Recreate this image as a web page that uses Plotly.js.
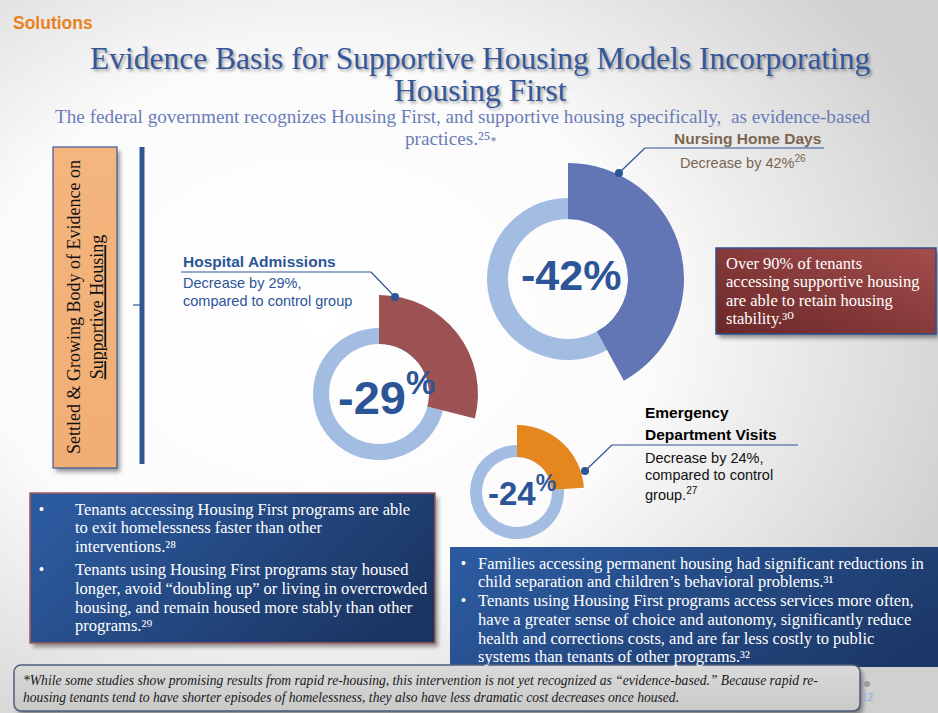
<!DOCTYPE html>
<html>
<head>
<meta charset="utf-8">
<script src="https://cdn.plot.ly/plotly-3.0.1.min.js"></script>
<style>html,body{margin:0;padding:0;overflow:hidden;background:#fff}#chart{width:938px;height:713px}</style>
</head>
<body>
<div id="chart"></div>
<script>
// ---------------- DATA ----------------
const metricNames = ['Nursing Home Days', 'Hospital Admissions', 'Emergency Department Visits'];
const decreasePct = [42, 29, 24];
const sliceColors = ['#6275B4', '#9C5252', '#E6861F'];
const ringColor = '#A3BCE1';
const smallPercentSign = [false, true, true];
const refNotes = ['26', '', '27'];

const titleLines = ['Evidence Basis for Supportive Housing Models Incorporating', 'Housing First'];
const subtitleLines = ['The federal government recognizes Housing First, and supportive housing specifically,  as evidence-based', 'practices.²⁵<span style="font-size:12px">*</span>'];
const leftBoxLines = [
  'Tenants accessing Housing First programs are able',
  'to exit homelessness faster than other',
  'interventions.²⁸',
  'Tenants using Housing First programs stay housed',
  'longer, avoid “doubling up” or living in overcrowded',
  'housing, and remain housed more stably than other',
  'programs.²⁹'
];
const rightBoxLines = [
  'Families accessing permanent housing had significant reductions in',
  'child separation and children’s behavioral problems.³¹',
  'Tenants using Housing First programs access services more often,',
  'have a greater sense of choice and autonomy, significantly reduce',
  'health and corrections costs, and are far less costly to public',
  'systems than tenants of other programs.³²'
];
const redBoxLines = ['Over 90% of tenants', 'accessing supportive housing', 'are able to retain housing', 'stability.³⁰'];
const footnoteLines = [
  '*While some studies show promising results from rapid re-housing, this intervention is not yet recognized as “evidence-based.” Because rapid re-',
  'housing tenants tend to have shorter episodes of homelessness, they also have less dramatic cost decreases once housed.'
];

// ---------------- LAYOUT HELPERS ----------------
const W = 938, H = 713;
const SERIF = '"Liberation Serif", "DejaVu Serif", serif';
const SANS = '"Liberation Sans", Arial, sans-serif';
const px = x => x / W, py = y => 1 - y / H;

function txt(x, y, text, o) {
  o = o || {};
  const font = { family: o.family || SERIF, size: o.size || 15, color: o.color || '#ffffff', weight: o.weight || 'normal', style: o.style || 'normal' };
  if (o.shadow) font.shadow = o.shadow;
  return {
    xref: 'paper', yref: 'paper', x: px(x), y: py(y), text: text, showarrow: false,
    xanchor: o.xanchor || 'left', yanchor: o.yanchor || 'middle', align: o.align || 'left',
    textangle: o.angle || 0, borderpad: 0, font: font
  };
}
function line(x0, y0, x1, y1, color, width) {
  return { type: 'line', xref: 'paper', yref: 'paper', x0: px(x0), y0: py(y0), x1: px(x1), y1: py(y1), line: { color: color, width: width } };
}
function dot(x, y, r, color) {
  return { type: 'circle', xref: 'paper', yref: 'paper', x0: px(x - r), y0: py(y + r), x1: px(x + r), y1: py(y - r), fillcolor: color, line: { width: 0 } };
}
function boxImg(x0, y0, x1, y1, o) {
  const pad = 10, w = x1 - x0, h = y1 - y0, Wt = w + pad * 2, Ht = h + pad * 2;
  const svg = `<svg xmlns='http://www.w3.org/2000/svg' width='${Wt}' height='${Ht}' viewBox='0 0 ${Wt} ${Ht}'>` +
    `<defs><linearGradient id='g' x1='${o.g[0]}' y1='${o.g[1]}' x2='${o.g[2]}' y2='${o.g[3]}'>` +
    `<stop offset='0' stop-color='${o.c1}'/><stop offset='1' stop-color='${o.c2}'/></linearGradient>` +
    `<filter id='f' x='-10%' y='-10%' width='120%' height='120%'><feGaussianBlur stdDeviation='2.2'/></filter></defs>` +
    (o.shadow === false ? '' : `<rect x='${pad + 3}' y='${pad + 4}' width='${w}' height='${h}' rx='${o.rx || 0}' fill='rgba(0,0,0,0.4)' filter='url(#f)'/>`) +
    `<rect x='${pad}' y='${pad}' width='${w}' height='${h}' rx='${o.rx || 0}' fill='url(#g)' stroke='${o.stroke || 'none'}' stroke-width='${o.sw || 0}'/></svg>`;
  return {
    source: 'data:image/svg+xml;charset=utf-8,' + encodeURIComponent(svg),
    xref: 'paper', yref: 'paper', x: px(x0 - pad), y: py(y0 - pad), sizex: Wt / W, sizey: Ht / H,
    xanchor: 'left', yanchor: 'top', sizing: 'stretch', layer: 'below'
  };
}
const bgSvg = `<svg xmlns='http://www.w3.org/2000/svg' width='${W}' height='${H}'><defs><radialGradient id='r' cx='0.34' cy='0.45' r='0.72'>` +
  `<stop offset='0' stop-color='#ffffff'/><stop offset='0.5' stop-color='#fbfbfb'/><stop offset='1' stop-color='#d0d0d0'/></radialGradient></defs>` +
  `<rect width='${W}' height='${H}' fill='url(#r)'/></svg>`;

// ---------------- DONUTS ----------------
const geom = [
  { cx: 568, cy: 279, rIn: 60, rRing: 81, rBig: 116, font: 43, lx: 571, ly: 275 },
  { cx: 379, cy: 394, rIn: 50, rRing: 66, rBig: 99, font: 47, lx: 386, ly: 394 },
  { cx: 517, cy: 492, rIn: 35, rRing: 47, rBig: 67, font: 33, lx: 522, ly: 491 }
];
function dom(g, r) { return { x: [px(g.cx - r), px(g.cx + r)], y: [py(g.cy + r), py(g.cy - r)] }; }

const traces = [];
decreasePct.forEach((v, i) => {
  const g = geom[i];
  const common = { type: 'pie', values: [v, 100 - v], labels: ['decrease', 'rest'], sort: false, direction: 'clockwise', rotation: 0,
    textinfo: 'none', textposition: 'none', hoverinfo: 'skip', showlegend: false };
  traces.push(Object.assign({}, common, {
    hole: g.rIn / g.rRing, domain: dom(g, g.rRing),
    marker: { colors: [ringColor, ringColor], line: { width: 0 } }
  }));
  traces.push(Object.assign({}, common, {
    hole: g.rIn / g.rBig, domain: dom(g, g.rBig),
    marker: { colors: [sliceColors[i], 'rgba(0,0,0,0)'], line: { width: 0 } }
  }));
});

// ---------------- ANNOTATIONS ----------------
const ann = [];
ann.push(txt(12, 23, 'Solutions', { family: SANS, size: 17.5, color: '#E8821E', weight: 'bold' }));
const titleShadow = '2px 2px 3px rgba(0,0,0,0.35)';
ann.push(txt(480, 58, titleLines[0], { xanchor: 'center', align: 'center', size: 31.5, color: '#34579B', shadow: titleShadow }));
ann.push(txt(480, 90, titleLines[1], { xanchor: 'center', align: 'center', size: 31.5, color: '#34579B', shadow: titleShadow }));
ann.push(txt(462, 116, subtitleLines[0], { xanchor: 'center', align: 'center', size: 19.2, color: '#6A7CB9' }));
ann.push(txt(450, 138, subtitleLines[1], { xanchor: 'center', align: 'center', size: 19.2, color: '#6A7CB9' }));

// vertical label
ann.push(txt(85, 307, 'Settled &amp; Growing Body of Evidence on<br><u>Supportive Housing</u>', { xanchor: 'center', align: 'center', angle: -90, size: 18, color: '#111111' }));

// center percentages
decreasePct.forEach((v, i) => {
  const g = geom[i];
  const label = smallPercentSign[i] ? `-${v}<sup>%</sup>` : `-${v}%`;
  ann.push(txt(g.lx, g.ly, label, { xanchor: 'center', align: 'center', family: SANS, size: g.font, color: '#2C5597', weight: 'bold' }));
});

// metric labels
ann.push(txt(822, 139, metricNames[0], { xanchor: 'right', family: SANS, size: 15.5, color: '#7B6651', weight: 'bold' }));
ann.push(txt(679, 162, `Decrease by ${decreasePct[0]}%<sup>${refNotes[0]}</sup>`, { family: SANS, size: 14.5, color: '#7B6651' }));
ann.push(txt(182, 261, metricNames[1], { family: SANS, size: 15.5, color: '#2C5597', weight: 'bold' }));
ann.push(txt(182, 283, `Decrease by ${decreasePct[1]}%,`, { family: SANS, size: 14.5, color: '#2C5597' }));
ann.push(txt(182, 301, 'compared to control group', { family: SANS, size: 14.5, color: '#2C5597' }));
ann.push(txt(644, 412, 'Emergency', { family: SANS, size: 15.5, color: '#000000', weight: 'bold' }));
ann.push(txt(644, 434, 'Department Visits', { family: SANS, size: 15.5, color: '#000000', weight: 'bold' }));
ann.push(txt(644, 458, `Decrease by ${decreasePct[2]}%,`, { family: SANS, size: 14.5, color: '#111111' }));
ann.push(txt(644, 475, 'compared to control', { family: SANS, size: 14.5, color: '#111111' }));
ann.push(txt(644, 494, `group.<sup>${refNotes[2]}</sup>`, { family: SANS, size: 14.5, color: '#111111' }));

// red box
const redY = [263, 281.5, 300, 318.5];
redBoxLines.forEach((t, i) => ann.push(txt(725, redY[i], t, { size: 16.5, color: '#ffffff' })));
// left box
const leftY = [509, 527.5, 546, 569, 588, 607, 625.5];
leftBoxLines.forEach((t, i) => ann.push(txt(74, leftY[i], t, { size: 16.5, color: '#ffffff' })));
[509, 569].forEach(y => ann.push(txt(38, y, '•', { size: 14, color: '#ffffff', family: SANS })));
// right box
const rightY = [563, 581.5, 600, 619, 638, 656.5];
rightBoxLines.forEach((t, i) => ann.push(txt(477, rightY[i], t, { size: 16.5, color: '#ffffff' })));
[563, 600].forEach(y => ann.push(txt(460, y, '•', { size: 14, color: '#ffffff', family: SANS })));
// footnote
const footY = [680, 697];
footnoteLines.forEach((t, i) => ann.push(txt(22, footY[i], t, { size: 13.6, color: '#1a1a1a', style: 'italic' })));
ann.push(txt(868, 697, '12', { xanchor: 'center', align: 'center', size: 10, color: '#8EA9DB', family: SANS }));

// ---------------- SHAPES ----------------
const shapes = [
  line(142, 147, 142, 464, '#2F5597', 5),
  line(133, 305, 141, 305, '#2F5597', 1.2),
  line(645, 148, 824, 148, '#2F5597', 1.2),
  line(645, 148, 619, 173, '#2F5597', 1.2),
  dot(619, 173, 4, '#2C5597'),
  line(181, 272, 371, 272, '#2F5597', 1.2),
  line(371, 272, 395, 297, '#2F5597', 1.2),
  dot(395, 297, 4, '#2C5597'),
  line(612, 445, 798, 445, '#2F5597', 1.2),
  line(612, 445, 585, 471, '#2F5597', 1.2),
  dot(585, 471, 4, '#2C5597'),
  dot(867, 684, 3, '#9a9a9a')
];

const images = [
  { source: 'data:image/svg+xml;charset=utf-8,' + encodeURIComponent(bgSvg), xref: 'paper', yref: 'paper', x: 0, y: 1, sizex: 1, sizey: 1, xanchor: 'left', yanchor: 'top', sizing: 'stretch', layer: 'below' },
  boxImg(53, 147, 117, 468, { g: [0, 0, 0, 1], c1: '#F4B57E', c2: '#F1AE74', stroke: '#3A5A9F', sw: 1.2 }),
  boxImg(716, 248, 936, 334, { g: [1, 0, 0, 1], c1: '#A44D4D', c2: '#6A2727', stroke: '#2F4F8F', sw: 1.5 }),
  boxImg(30, 493, 435, 643, { g: [0, 0.3, 1, 0.7], c1: '#2C5A9E', c2: '#1A3461', stroke: '#A45A5A', sw: 1.5 }),
  boxImg(450, 547, 938, 667, { g: [0, 0.3, 1, 0.7], c1: '#2C5A9E', c2: '#1C3868', shadow: false }),
  boxImg(14, 665, 860, 711, { g: [0, 0, 0, 1], c1: '#DADADA', c2: '#C9C9C9', stroke: '#4E5D7D', sw: 1.5, rx: 7 })
];

Plotly.newPlot('chart', traces, {
  width: W, height: H, margin: { l: 0, r: 0, t: 0, b: 0 },
  paper_bgcolor: '#f5f5f5', plot_bgcolor: 'rgba(0,0,0,0)',
  showlegend: false, annotations: ann, shapes: shapes, images: images
}, { staticPlot: true, displayModeBar: false });
</script>
</body>
</html>
